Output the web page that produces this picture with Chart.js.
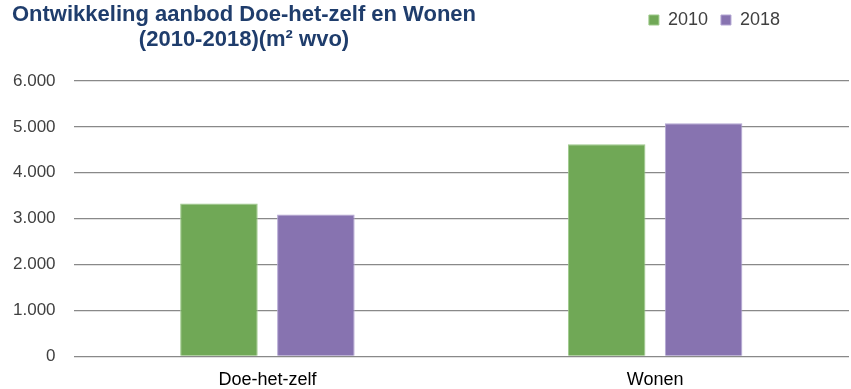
<!DOCTYPE html>
<html>
<head>
<meta charset="utf-8">
<script src="https://cdn.jsdelivr.net/npm/chart.js@4"></script>
<style>
  body { margin: 0; background: #ffffff; }
  #wrap { width: 851px; height: 389px; position: relative; }
</style>
</head>
<body>
<div id="wrap"><canvas id="aanbod-chart"></canvas></div>
<script>
const categories = ['Doe-het-zelf', 'Wonen']
const years = ['2010', '2018']
const values2010 = [3330, 4620]
const values2018 = [3090, 5080]
const titleLines = ['Ontwikkeling aanbod Doe-het-zelf en Wonen', '(2010-2018)(m\u00b2 wvo)']

const fontFamily = "'Liberation Sans', Arial, sans-serif"

function dutchNumber(v) {
    return String(v).replace(/\B(?=(\d{3})+(?!\d))/g, '.')
}

// title is drawn by hand so the two lines stay centred on each other at the left
const headerPlugin = {
    id: 'header',
    beforeDraw(chart) {
        // legend sits in the top right corner, next to the title
        chart.legend.right = 793
        chart.legend.top = -2
    },
    afterDraw(chart) {
        const ctx = chart.ctx
        ctx.save()
        ctx.font = 'bold 22px ' + fontFamily
        ctx.fillStyle = '#1f3d6c'
        ctx.textAlign = 'center'
        ctx.textBaseline = 'alphabetic'
        titleLines.forEach((line, i) => ctx.fillText(line, 244, 21 + i * 25))
        ctx.restore()
    }
}

let aanbodChart = new Chart(document.getElementById('aanbod-chart'), {
    type: 'bar',
    data: {
        labels: categories,
        datasets: [
            {
                label: years[0],
                backgroundColor: '#70a856',
                borderColor: '#9dc98a',
                borderWidth: 1,
                data: values2010
            },
            {
                label: years[1],
                backgroundColor: '#8773b0',
                borderColor: '#b3a6d3',
                borderWidth: 1,
                data: values2018
            }
        ]
    },
    plugins: [headerPlugin],
    options: {
        maintainAspectRatio: false,
        animation: false,
        categoryPercentage: 0.5,
        barPercentage: 0.8,
        layout: {
            padding: { top: 40, right: 2, bottom: -15, left: -5 }
        },
        plugins: {
            title: { display: false },
            tooltip: { enabled: false },
            legend: {
                position: 'top',
                align: 'end',
                labels: {
                    boxWidth: 10,
                    boxHeight: 10,
                    padding: 13,
                    color: '#404040',
                    font: { size: 18, family: fontFamily }
                }
            }
        },
        scales: {
            x: {
                grid: { display: false, drawTicks: false, tickLength: 0 },
                border: { display: false },
                ticks: {
                    color: '#000000',
                    padding: 13,
                    font: { size: 18, family: fontFamily }
                }
            },
            y: {
                min: 0,
                max: 6000,
                border: { display: false },
                grid: {
                    color: '#898989',
                    lineWidth: 1.3,
                    drawTicks: false
                },
                ticks: {
                    stepSize: 1000,
                    padding: 18,
                    color: '#404040',
                    font: { size: 17, family: fontFamily },
                    callback: function(value) {
                        return dutchNumber(value)
                    }
                }
            }
        }
    }
})
</script>
</body>
</html>
